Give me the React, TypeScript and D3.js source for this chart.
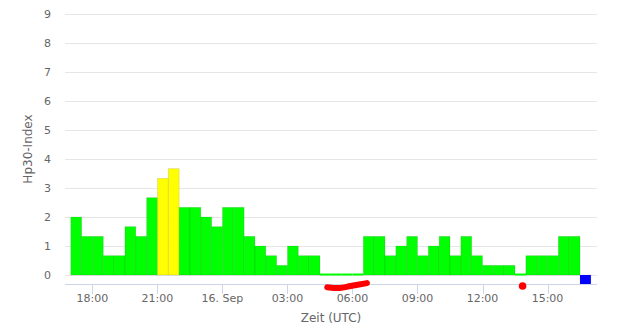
import React from "react";
import * as d3 from "d3";

// Hp30 values, half-hourly slots starting 15 Sep 17:00 UTC
const slotStart = Date.UTC(2023, 8, 15, 17, 0);
const hp30Values = [
  2, 1.333, 1.333, 0.667, 0.667, 1.667, 1.333, 2.667, 3.333, 3.667,
  2.333, 2.333, 2, 1.667, 2.333, 2.333, 1.333, 1, 0.667, 0.333,
  1, 0.667, 0.667, 0, 0, 0, 0, 1.333, 1.333, 0.667,
  1, 1.333, 0.667, 1, 1.333, 0.667, 1.333, 0.667, 0.333, 0.333,
  0.333, 0, 0.667, 0.667, 0.667, 1.333, 1.333, -0.31,
];
const yTicks = [0, 1, 2, 3, 4, 5, 6, 7, 8, 9];
const yTitle = "Hp30-Index";
const xTitle = "Zeit (UTC)";
// hand-drawn annotations (time, value)
const squiggle: [number, number][] = [
  [Date.UTC(2023, 8, 16, 4, 50), -0.42],
  [Date.UTC(2023, 8, 16, 5, 25), -0.45],
  [Date.UTC(2023, 8, 16, 5, 55), -0.38],
  [Date.UTC(2023, 8, 16, 6, 40), -0.28],
];
const dot: [number, number] = [Date.UTC(2023, 8, 16, 13, 51), -0.38];

const HALF_HOUR = 30 * 60 * 1000;
const W = 618;
const H = 335;
const left = 65;
const right = 597;
const top = 14;
const bottom = 284;

const x = d3
  .scaleUtc()
  .domain([new Date(Date.UTC(2023, 8, 15, 16, 44)), new Date(Date.UTC(2023, 8, 16, 17, 17))])
  .range([left, right]);
const y = d3.scaleLinear().domain([-0.31, 9]).range([bottom, top]);

const colorFor = (v: number) => (v < 0 ? "#0000ff" : v >= 3 ? "#ffff00" : "#00ff00");
const fmt = (d: Date) =>
  d.getUTCHours() === 0 ? d3.utcFormat("%-d. %b")(d) : d3.utcFormat("%H:%M")(d);

export default function App() {
  const xTicks = x.ticks(d3.utcHour.every(3)!);
  const font = "'DejaVu Sans', sans-serif";
  const line = d3.line().curve(d3.curveCatmullRom)(
    squiggle.map(([t, v]) => [x(new Date(t)), y(v)] as [number, number])
  );
  return (
    <svg
      width={W}
      height={H}
      style={{ position: "absolute", left: 0, top: 0, background: "#fff" }}
      fontFamily={font}
    >
      {yTicks.map((t) => (
        <g key={t}>
          <line x1={left} x2={right} y1={y(t) + 0.5} y2={y(t) + 0.5} stroke="#e6e6e6" />
          <text x={51} y={y(t) + 4} textAnchor="end" fontSize={11} fill="#666">
            {t}
          </text>
        </g>
      ))}
      {hp30Values.map((v, i) => {
        const x0 = x(new Date(slotStart + i * HALF_HOUR));
        const x1 = x(new Date(slotStart + (i + 1) * HALF_HOUR));
        let yTop = Math.min(y(v), y(0));
        let yBot = Math.max(y(v), y(0));
        if (v === 0) {
          yTop = y(0) - 1.5;
          yBot = y(0) + 0.5;
        }
        return (
          <rect
            key={i}
            x={x0}
            y={yTop}
            width={x1 - x0}
            height={yBot - yTop}
            fill={colorFor(v)}
            stroke="rgba(0,0,0,0.12)"
            strokeWidth={v === 0 ? 0 : 0.8}
          />
        );
      })}
      <line x1={left} x2={right} y1={bottom + 0.5} y2={bottom + 0.5} stroke="#ccd6eb" />
      {xTicks.map((t, i) => (
        <g key={i}>
          <line
            x1={Math.round(x(t)) + 0.5}
            x2={Math.round(x(t)) + 0.5}
            y1={bottom}
            y2={bottom + 10}
            stroke="#ccd6eb"
          />
          <text x={x(t)} y={302} textAnchor="middle" fontSize={11} fill="#666">
            {fmt(t)}
          </text>
        </g>
      ))}
      <text x={331} y={322} textAnchor="middle" fontSize={12} fill="#666">
        {xTitle}
      </text>
      <text
        transform={`translate(32,${(top + bottom) / 2}) rotate(-90)`}
        textAnchor="middle"
        fontSize={12}
        fill="#666"
      >
        {yTitle}
      </text>
      <path d={line || ""} fill="none" stroke="#ff0000" strokeWidth={6} strokeLinecap="round" />
      <circle cx={x(new Date(dot[0]))} cy={y(dot[1])} r={3.8} fill="#ff0000" />
    </svg>
  );
}
